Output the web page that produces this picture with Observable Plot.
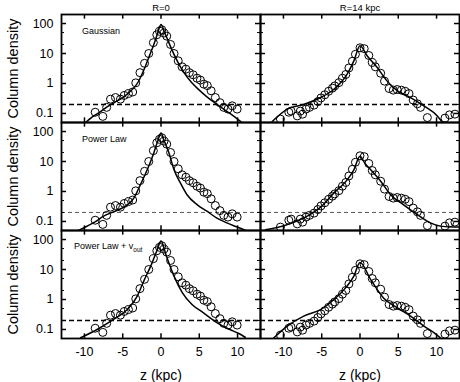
<!DOCTYPE html>
<html><head><meta charset="utf-8">
<script src="https://cdn.jsdelivr.net/npm/d3@7"></script>
<script src="https://cdn.jsdelivr.net/npm/@observablehq/plot@0.6"></script>
<style>body{margin:0;background:#fff}</style>
</head><body><div id="chart"></div>
<script>
// ---- categories ----
const columns = ["R=0", "R=14 kpc"];
const models = ["Gaussian", "Power Law", "Power Law + vout"];
const modelText = ["Gaussian", "Power Law", "Power Law + v"];
const xTicks = [-10, -5, 0, 5, 10];
const yMajor = [0.1, 1, 10, 100];
const yMinor = [0.2, 0.5, 2, 5, 20, 50];
const threshold = 0.2;

// ---- observed column density (same in every row of a column) ----
const obsZ_R0 = [-8.6,-7.6,-7.1,-6.6,-5.95,-5.3,-4.8,-4.25,-3.7,-3.3,-2.75,-2.15,-1.6,-1.0,-0.55,-0.2,0.1,0.4,0.75,1.25,1.7,2.25,2.75,3.25,3.7,4.2,4.7,5.15,5.6,6.05,6.55,7.1,7.7,8.2,8.75,9.3,9.95];
const obsN_R0 = [0.11,0.08,0.16,0.30,0.34,0.30,0.40,0.46,0.52,1.05,2.3,4.7,10,23,42,55,62,48,38,20,10,5.7,3.6,3.0,2.3,1.95,1.5,1.3,0.95,0.85,0.57,0.34,0.23,0.16,0.14,0.18,0.14];
const obsZ_R14 = [-10.4,-9.3,-9.0,-8.2,-7.8,-7.5,-7.05,-6.6,-6.0,-5.5,-5.1,-4.6,-4.1,-3.6,-3.3,-2.75,-2.3,-1.85,-1.45,-1.0,-0.6,0.0,0.55,1.15,1.6,2.0,2.7,3.2,3.8,4.35,4.85,5.4,5.9,6.4,6.95,7.5,7.9,8.8,11.1,11.7,12.4];
const obsN_R14 = [0.065,0.11,0.12,0.083,0.12,0.095,0.14,0.16,0.19,0.25,0.33,0.42,0.55,0.7,0.83,1.07,1.5,2.0,3.3,5.5,9.4,15.5,14.5,8.6,5,3.6,2.2,1.2,0.68,0.6,0.63,0.6,0.55,0.46,0.28,0.21,0.16,0.073,0.07,0.09,0.095];

// ---- model curves ----
const gaussZ_R0 = [-9.75,-9,-8,-7,-6,-5,-4,-3,-2.5,-2,-1.5,-1,-0.5,0,0.5,1,1.5,2,2.5,3,4,5,6,7,8,9,10,10.5];
const gaussN_R0 = [0.053,0.075,0.11,0.17,0.24,0.34,0.55,1.1,2.0,4.0,8.5,18,42,92,48,24,12,6.5,3.7,2.3,1.07,0.6,0.36,0.23,0.15,0.1,0.065,0.052];
const gaussZ_R14 = [-11.5,-9.5,-7.35,-5.15,-3.4,-1.7,-0.8,0,0.95,2.25,3.55,4.85,6.6,8.35,10.1,10.7];
const gaussN_R14 = [0.053,0.14,0.2,0.34,0.64,2.0,5.7,18,8.3,3.4,1.2,0.58,0.34,0.18,0.083,0.053];
const powZ_R0 = [-10.75,-9.75,-8.5,-7.5,-6,-4.85,-3.55,-2.7,-1.8,-0.95,-0.4,0,0.4,1.05,1.7,2.55,3.4,4.75,6.0,7.3,8.6,9.5,10.2,11];
const powN_R0 = [0.05,0.068,0.1,0.15,0.22,0.3,0.6,1.67,5.3,19,50,90,50,19,5.3,1.9,0.78,0.36,0.22,0.13,0.09,0.072,0.062,0.051];
const powZ_R14 = [-12.35,-9.95,-6.9,-5.15,-3.4,-1.7,-0.8,0,0.6,1.4,2.7,4.0,5.7,7.5,9.2,10.5,12.3,13];
const powN_R14 = [0.053,0.072,0.15,0.3,0.9,2.4,5.3,15,9,5.3,2.2,0.78,0.36,0.17,0.09,0.07,0.065,0.065];
const voutZ_R0 = [-10.5,-8.35,-6.15,-4.4,-3.1,-2.25,-1.15,-0.5,0,0.7,1.7,2.8,4.05,5.55,7.3,9.0,10.1,11];
const voutN_R0 = [0.053,0.1,0.22,0.46,1.3,4.1,17,45,90,28,6,1.67,0.68,0.36,0.17,0.1,0.075,0.055];
const voutZ_R14 = [-11.25,-9.5,-7.35,-5.15,-3.4,-1.7,-0.8,0,1.4,3.1,4.85,6.6,8.35,9.65,10.5];
const voutN_R14 = [0.053,0.13,0.28,0.46,1.0,2.8,6,17,4.6,1.1,0.53,0.28,0.13,0.079,0.053];

// ---- build tables ----
const obsSets = {"R=0": [obsZ_R0, obsN_R0], "R=14 kpc": [obsZ_R14, obsN_R14]};
const obs = [];
for (const m of models) for (const c of columns) {
  const [zs, ns] = obsSets[c];
  zs.forEach((z, i) => obs.push({fx: c, fy: m, z, n: ns[i]}));
}
const modelSets = [
  ["Gaussian", "R=0", gaussZ_R0, gaussN_R0],
  ["Gaussian", "R=14 kpc", gaussZ_R14, gaussN_R14],
  ["Power Law", "R=0", powZ_R0, powN_R0],
  ["Power Law", "R=14 kpc", powZ_R14, powN_R14],
  ["Power Law + vout", "R=0", voutZ_R0, voutN_R0],
  ["Power Law + vout", "R=14 kpc", voutZ_R14, voutN_R14]
];
const curves = [];
for (const [m, c, zs, ns] of modelSets) zs.forEach((z, i) => curves.push({fx: c, fy: m, key: m + c, z, n: ns[i]}));
const thr = [];
for (const m of models) for (const c of columns) thr.push({fx: c, fy: m, v: threshold});

const W = 460, Hh = 382, mL = 61, mR = 1, mT = 13, mB = 44;
const FW = (W - mL - mR) / columns.length;
const FH = (Hh - mT - mB) / models.length;

const plot = Plot.plot({
  width: W, height: Hh,
  marginLeft: mL, marginRight: mR, marginTop: mT, marginBottom: mB,
  style: {fontFamily: "'Liberation Sans', Arial, sans-serif", fontSize: "12.5px", background: "#fff", color: "#000"},
  fx: {domain: columns, padding: 0, axis: null},
  fy: {domain: models, padding: 0, axis: null},
  x: {domain: [-13, 13]},
  y: {type: "log", domain: [0.05, 200]},
  marks: [
    Plot.ruleY(thr.filter(d => d.fy !== "Power Law"), {y: "v", fx: "fx", fy: "fy", stroke: "#000", strokeWidth: 1.4, strokeDasharray: "5,3"}),
    Plot.ruleY(thr.filter(d => d.fy === "Power Law"), {y: "v", fx: "fx", fy: "fy", stroke: "#555", strokeWidth: 1, strokeDasharray: "4,3"}),
    Plot.line(curves, {x: "z", y: "n", z: "key", fx: "fx", fy: "fy", stroke: "#000", strokeWidth: 1.5, curve: "monotone-x", clip: true}),
    Plot.dot(obs, {x: "z", y: "n", fx: "fx", fy: "fy", r: 4, stroke: "#000", strokeWidth: 1, fill: "none", clip: true}),
    // inward ticks on every panel edge
    Plot.ruleX(xTicks, {x: d => d, insetTop: FH - 5, strokeWidth: 1.5}),
    Plot.ruleX(xTicks, {x: d => d, insetBottom: FH - 5, strokeWidth: 1.5}),
    Plot.ruleY(yMajor, {y: d => d, insetRight: FW - 5, strokeWidth: 1.5}),
    Plot.ruleY(yMajor, {y: d => d, insetLeft: FW - 5, strokeWidth: 1.5}),
    Plot.ruleY(yMinor, {y: d => d, insetRight: FW - 3, strokeWidth: 1}),
    Plot.ruleY(yMinor, {y: d => d, insetLeft: FW - 3, strokeWidth: 1}),
    Plot.frame({stroke: "#000", strokeWidth: 1.8}),
    Plot.axisY({anchor: "left", ticks: yMajor, tickSize: 0, tickPadding: 8, label: null, tickFormat: d => String(d), fontSize: 12.5}),
    Plot.axisX({anchor: "bottom", ticks: xTicks, tickSize: 0, tickPadding: 9, label: null, tickFormat: d => String(d), fontSize: 12.5}),
    // axis titles
    Plot.text(models, {fy: d => d, fx: () => columns[0], text: () => "Column density", frameAnchor: "left", textAnchor: "middle", lineAnchor: "middle", rotate: -90, dx: -48, fontSize: 14.5}),
    Plot.text(columns, {fx: d => d, fy: () => models[2], text: () => "z (kpc)", frameAnchor: "bottom", lineAnchor: "middle", dy: 37, fontSize: 14}),
    Plot.text(columns, {fx: d => d, fy: () => models[0], text: d => d, frameAnchor: "top", lineAnchor: "middle", dy: -6.5, fontSize: 9.5}),
    // model names
    Plot.text(models.slice(0, 2), {fy: d => d, fx: () => columns[0], text: d => modelText[models.indexOf(d)], frameAnchor: "top-left", textAnchor: "start", lineAnchor: "middle", dx: 20.5, dy: 16.5, fontSize: 9}),
    Plot.text(models.slice(2), {fy: d => d, fx: () => columns[0], text: d => modelText[models.indexOf(d)], frameAnchor: "top-left", textAnchor: "start", lineAnchor: "middle", dx: 12.5, dy: 16, fontSize: 9})
  ]
});
document.getElementById("chart").appendChild(plot);
// subscript "out" on the v
d3.select(plot).selectAll("text").filter(function() { return this.textContent === "Power Law + v"; })
  .append("tspan").attr("dy", 2.5).attr("font-size", 6.5).text("out");
</script>
</body></html>
